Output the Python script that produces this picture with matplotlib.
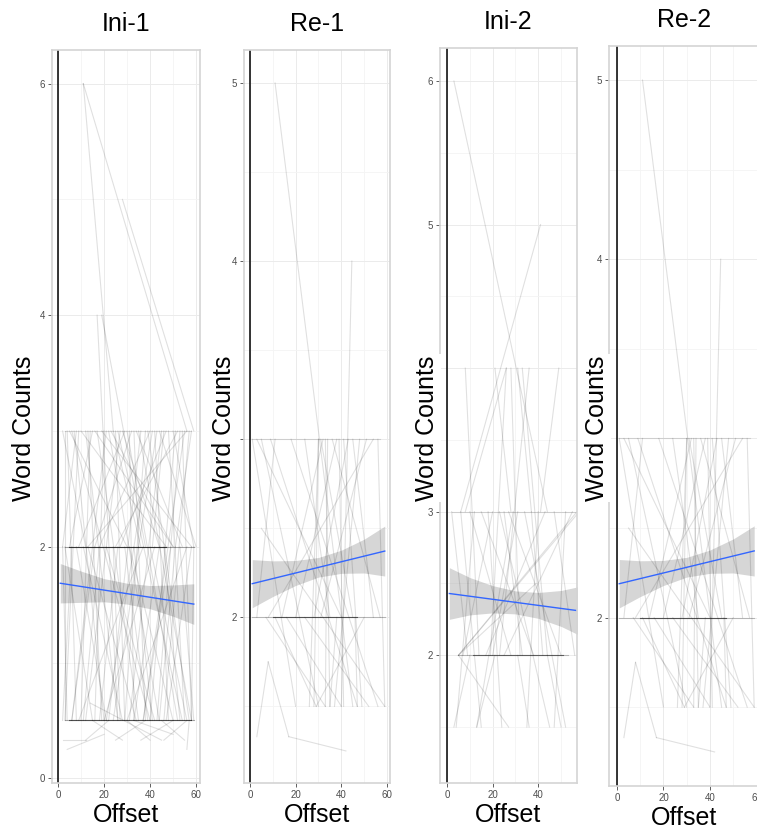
import matplotlib
matplotlib.use("Agg")
import matplotlib.pyplot as plt

plt.rcParams['font.family'] = ['Liberation Sans', 'DejaVu Sans']

titles = ["Ini-1", "Re-1", "Ini-2", "Re-2"]

# grey pair lines: (offset_a, count_a, offset_b, count_b)
ini1_segments = [
    (11, 6, 24, 3), (11, 6, 56, 3), (28, 5, 59, 3), (17, 4, 26, 0.5), (19, 4, 38, 2),
    (4, 3, 8, 0.5), (7, 3, 20, 0.5), (9, 3, 3, 0.5), (12, 3, 26, 0.5), (14, 3, 10, 0.5),
    (17, 3, 35, 0.5), (20, 3, 16, 0.5), (22, 3, 44, 0.5), (25, 3, 29, 0.5), (27, 3, 12, 0.5),
    (30, 3, 52, 0.5), (33, 3, 38, 0.5), (36, 3, 22, 0.5), (39, 3, 57, 0.5), (42, 3, 48, 0.5),
    (45, 3, 31, 0.5), (48, 3, 55, 0.5), (51, 3, 40, 0.5), (54, 3, 58, 0.5), (57, 3, 46, 0.5),
    (5, 3, 30, 2), (10, 3, 47, 2), (15, 3, 5, 2), (19, 3, 58, 2), (24, 3, 36, 2),
    (29, 3, 9, 2), (34, 3, 54, 2), (40, 3, 18, 2), (46, 3, 41, 2), (52, 3, 25, 2),
    (56, 3, 13, 2), (23, 3, 50, 2), (3, 3, 3, 0.5), (31, 3, 33, 0.5), (44, 3, 60, 2),
    (2, 3, 12, 2), (6, 3, 40, 0.5), (8, 3, 2, 2), (13, 3, 19, 0.5), (16, 3, 50, 2),
    (21, 3, 6, 0.5), (26, 3, 54, 0.5), (28, 3, 44, 2), (32, 3, 16, 2), (35, 3, 58, 0.5),
    (38, 3, 29, 0.5), (41, 3, 21, 0.5), (43, 3, 35, 2), (47, 3, 27, 2), (50, 3, 59, 2),
    (53, 3, 43, 0.5), (55, 3, 37, 0.5), (58, 3, 51, 2),
    (3, 2, 15, 0.5), (6, 2, 2, 0.5), (11, 2, 28, 0.5), (16, 2, 6, 0.5), (21, 2, 42, 0.5),
    (26, 2, 18, 0.5), (31, 2, 50, 0.5), (35, 2, 24, 0.5), (40, 2, 56, 0.5), (44, 2, 33, 0.5),
    (49, 2, 37, 0.5), (53, 2, 59, 0.5), (58, 2, 47, 0.5), (13, 2, 34, 0.5), (37, 2, 9, 0.5),
    (8, 2, 21, 0.5), (24, 2, 27, 0.5), (46, 2, 53, 0.5), (59, 2, 58, 0.5), (2, 2, 4, 0.5),
    (18, 2, 11, 0.5), (29, 2, 39, 0.5), (33, 2, 41, 0.5), (42, 2, 20, 0.5), (51, 2, 44, 0.5),
    (56, 2, 30, 0.5),
    (15, 0.5, 28, 0.33), (22, 0.5, 12, 0.33), (30, 0.5, 40, 0.33), (38, 0.5, 25, 0.33),
    (45, 0.5, 55, 0.33), (50, 0.5, 36, 0.33), (56, 0.5, 46, 0.33), (14, 0.65, 45, 0.33),
    (4, 0.25, 20, 0.38), (57, 0.5, 56, 0.25), (33, 0.5, 50, 0.38),
]
ini1_flats = [(3, 58, 3, 1), (3, 59, 2, 3), (5, 47, 2, 8), (3, 59, 0.5, 3), (5, 58, 0.5, 6), (2, 12, 0.33, 1)]

re1_segments = [
    (11, 5, 45, 1.5), (44.6, 4, 40, 1.5),
    (3, 1.33, 8, 1.75), (8, 1.75, 17, 1.33), (17, 1.33, 42, 1.25),
    (5, 2.5, 59, 1.5),
    (1, 3, 20, 1.5), (3, 3, 40, 2), (5, 3, 30, 1.5), (9, 3, 47, 1.5), (11, 3, 3, 2),
    (18, 3, 56, 1.5), (30, 3, 26, 1.5), (31, 3, 45, 2), (32, 3, 14, 2), (34, 3, 33, 1.5),
    (38, 3, 20, 2), (41, 3, 49, 1.5), (43, 3, 28, 2), (45, 3, 54, 2), (48, 3, 37, 1.5),
    (51, 3, 31, 2), (54, 3, 8, 2), (56, 3, 59, 1.5), (24, 3, 35, 2), (36, 3, 57, 2),
    (30, 3, 28, 1.5), (33, 3, 35, 1.5), (39, 3, 41, 1.5),
    (11, 2, 29, 1.5), (16, 2, 40, 1.5), (24, 2, 52, 1.5), (38, 2, 35, 1.5), (50, 2, 29, 1.5),
    (7, 2, 33, 1.5), (46, 2, 47, 1.5),
]
re1_flats = [(1, 59, 2, 2), (10, 47, 2, 6), (1, 57, 3, 1)]

ini2_segments = [
    (3, 6, 44, 3), (41, 5, 6, 3),
    (8, 4, 14, 2), (21, 4, 28, 3), (26, 4, 19, 2), (28, 4, 32, 2), (31, 4, 37, 3),
    (33, 4, 44, 2), (36, 4, 23, 2), (49, 4, 41, 3), (26, 4, 8, 3),
    (2, 3, 9, 2), (6, 3, 15, 1.5), (10, 3, 28, 2), (12, 3, 4, 1.5), (15, 3, 38, 2),
    (18, 3, 24, 1.5), (20, 3, 7, 2), (23, 3, 45, 1.5), (25, 3, 33, 2), (27, 3, 50, 2),
    (29, 3, 13, 1.5), (31, 3, 20, 2), (34, 3, 52, 1.5), (37, 3, 42, 2), (40, 3, 35, 1.5),
    (43, 3, 17, 2), (47, 3, 56, 2), (52, 3, 47, 1.5), (55, 3, 25, 2), (57, 3, 5, 2),
    (5, 2, 27, 1.5), (10, 2, 3, 1.5), (21, 2, 13, 1.5), (31, 2, 36, 1.5), (44, 2, 50, 1.5),
    (5, 2, 39, 2.5), (5, 2, 58, 3),
]
ini2_flats = [(5, 53, 2, 2), (11.5, 51, 2, 5), (2, 57, 3, 1)]

re2_segments = re1_segments
re2_flats = re1_flats

# linear fit with confidence band
fit_x = [1, 10, 20, 30, 40, 50, 59]
ini1_fit = [1.685, 1.657, 1.626, 1.595, 1.564, 1.533, 1.505]
ini1_lo = [1.515, 1.52, 1.525, 1.505, 1.465, 1.40, 1.33]
ini1_hi = [1.855, 1.79, 1.725, 1.685, 1.665, 1.67, 1.68]
re1_fit = [2.189, 2.217, 2.249, 2.281, 2.312, 2.344, 2.372]
re1_lo = [2.054, 2.117, 2.179, 2.226, 2.247, 2.249, 2.232]
re1_hi = [2.324, 2.317, 2.319, 2.336, 2.377, 2.439, 2.512]
ini2_fit = [2.43, 2.411, 2.39, 2.368, 2.347, 2.326, 2.307]
ini2_lo = [2.25, 2.281, 2.295, 2.288, 2.257, 2.201, 2.132]
ini2_hi = [2.61, 2.541, 2.485, 2.448, 2.437, 2.451, 2.482]
re2_fit, re2_lo, re2_hi = re1_fit, re1_lo, re1_hi

panels = [
    (ini1_segments, ini1_flats, ini1_fit, ini1_lo, ini1_hi),
    (re1_segments, re1_flats, re1_fit, re1_lo, re1_hi),
    (ini2_segments, ini2_flats, ini2_fit, ini2_lo, ini2_hi),
    (re2_segments, re2_flats, re2_fit, re2_lo, re2_hi),
]

W, H = 757, 833
# axes boxes in pixels: left, right, top, bottom
boxes = [(52, 200, 50, 783), (244, 390, 50, 783), (440, 577, 48, 783), (609, 760, 46, 786)]
xlims = [(-2.6, 61.7), (-2.6, 61.3), (-3.1, 57.0), (-3.4, 61.5)]
ylims = [(-0.04, 6.29), (1.07, 5.185), (1.11, 6.23), (1.06, 5.19)]
ymajor = [[0, 2, 4, 6], [2, 3, 4, 5], [2, 3, 4, 5, 6], [2, 3, 4, 5]]
# tick labels that sit under the y-axis title in the original
ylabels = [["0", "2", "4", "6"], ["2", "", "4", "5"], ["2", "3", "", "5", "6"], ["2", "", "4", "5"]]
yminor = [[1, 3, 5], [1.5, 2.5, 3.5, 4.5], [1.5, 2.5, 3.5, 4.5, 5.5], [1.5, 2.5, 3.5, 4.5]]
ylabel_x = [24, 224, 427, 597]

fig = plt.figure(figsize=(W / 100, H / 100), dpi=100)

for i, (segs, flats, fit, lo, hi) in enumerate(panels):
    l, r, t, b = boxes[i]
    ax = fig.add_axes([l / W, (H - b) / H, (r - l) / W, (b - t) / H])
    ax.set_xticks([0, 20, 40, 60])
    ax.set_xticks([10, 30, 50], minor=True)
    ax.set_yticks(ymajor[i], ylabels[i])
    ax.set_yticks(yminor[i], minor=True)
    ax.set_xlim(*xlims[i])
    ax.set_ylim(*ylims[i])
    ax.grid(which='major', color='#ebebeb', lw=0.7)
    ax.grid(which='minor', color='#f4f4f4', lw=0.6)
    ax.set_axisbelow(True)
    ax.tick_params(which='major', length=3, width=0.6, color='#444444',
                   labelsize=7, labelcolor='#4d4d4d', pad=2)
    ax.tick_params(which='minor', length=0)
    for sp in ax.spines.values():
        sp.set_color('#d4d4d4')
        sp.set_linewidth(1.2)

    for (xa, ya, xb, yb) in segs:
        ax.plot([xa, xb], [ya, yb], color='black', alpha=0.12, lw=0.8)
    for (xa, xb, y, n) in flats:
        ax.plot([xa, xb], [y, y], color='black', alpha=1 - 0.88 ** n, lw=0.8)

    ax.axvline(0, color='black', lw=1.1)
    ax.fill_between(fit_x, lo, hi, color='#999999', alpha=0.4, lw=0)
    ax.plot([fit_x[0], fit_x[-1]], [fit[0], fit[-1]], color='#3366FF', lw=1.0)

    ax.set_title(titles[i], fontsize=18, pad=14)
    ax.set_xlabel('Offset', fontsize=18, labelpad=2)
    fig.text(ylabel_x[i] / W, (H - 428) / H, 'Word Counts', fontsize=18, rotation=90,
             ha='center', va='center',
             bbox=dict(facecolor='white', edgecolor='none', pad=1.0))

fig.savefig('out.png', dpi=100)
